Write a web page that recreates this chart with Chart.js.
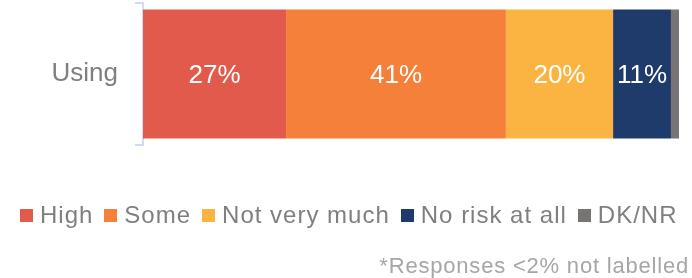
<!DOCTYPE html>
<html lang="en">
<head>
    <meta charset="UTF-8">
    <title>Risk perception - Using</title>
    <style>
        body {
            margin: 0;
            background: #fff;
            font-family: "Liberation Sans", Arial, sans-serif;
        }
        .wrap {
            position: relative;
            width: 692px;
            height: 278px;
        }
        .wrap canvas {
            position: absolute;
            left: 0;
            top: 0;
        }
        .legend {
            position: absolute;
            left: 20px;
            top: 200px;
            height: 30px;
            display: flex;
            align-items: center;
            font-size: 24px;
            letter-spacing: 1px;
            color: #7f7f7f;
            white-space: nowrap;
        }
        .legend .item {
            display: flex;
            align-items: center;
            margin-right: 11px;
        }
        .legend .box {
            width: 13px;
            height: 13px;
            margin-right: 7px;
        }
        .note {
            position: absolute;
            right: 3px;
            top: 252px;
            line-height: 28px;
            font-size: 22px;
            letter-spacing: 0.8px;
            color: #a6a6a6;
        }
    </style>
    <script src="https://cdn.jsdelivr.net/npm/chart.js@4.4.1/dist/chart.umd.min.js"></script>
</head>
<body>
    <div class="wrap">
        <canvas id="riskChart" width="692" height="278"></canvas>
        <div class="legend" id="legend"></div>
        <div class="note">*Responses &lt;2% not labelled</div>
    </div>

    <script>
        // data
        const categories = ['Using'];
        const seriesNames = ['High', 'Some', 'Not very much', 'No risk at all', 'DK/NR'];
        const high = [26.7];
        const some = [41];
        const notVeryMuch = [20];
        const noRisk = [10.8];
        const dkNr = [1.5];
        const seriesColors = ['#e15a4b', '#f58039', '#fbb442', '#1f3b6b', '#787473'];

        const seriesValues = [high, some, notVeryMuch, noRisk, dkNr];

        // percent labels inside the segments, skipped under 2%
        const segmentLabels = {
            id: 'segmentLabels',
            afterDatasetsDraw(chart) {
                const ctx = chart.ctx;
                ctx.save();
                ctx.font = '26px "Liberation Sans", Arial, sans-serif';
                ctx.fillStyle = '#ffffff';
                ctx.textAlign = 'center';
                ctx.textBaseline = 'middle';
                chart.data.datasets.forEach((ds, i) => {
                    const meta = chart.getDatasetMeta(i);
                    meta.data.forEach((bar, j) => {
                        const v = ds.data[j];
                        if (v < 2) return;
                        const cx = (bar.x + bar.base) / 2;
                        ctx.fillText(Math.round(v) + '%', cx, bar.y + 2);
                    });
                });
                ctx.restore();
            }
        };

        const ctx = document.getElementById('riskChart').getContext('2d');
        new Chart(ctx, {
            type: 'bar',
            data: {
                labels: categories,
                datasets: seriesNames.map((name, i) => ({
                    label: name,
                    data: seriesValues[i],
                    backgroundColor: seriesColors[i],
                    borderWidth: 0,
                    barPercentage: 1,
                    categoryPercentage: 0.91
                }))
            },
            options: {
                indexAxis: 'y',
                responsive: false,
                animation: false,
                layout: {
                    padding: { top: 3, right: 13, bottom: 133, left: 0 }
                },
                plugins: {
                    legend: { display: false },
                    tooltip: { enabled: false }
                },
                scales: {
                    x: {
                        display: false,
                        stacked: true,
                        min: 0,
                        max: 100
                    },
                    y: {
                        stacked: true,
                        afterFit(scale) {
                            // fixed axis width, and no extra room above/below for the label
                            scale.width = 143;
                            scale.paddingTop = 0;
                            scale.paddingBottom = 0;
                        },
                        border: {
                            display: true,
                            color: '#d0dcef',
                            width: 2
                        },
                        grid: {
                            offset: true,
                            drawOnChartArea: false,
                            drawTicks: true,
                            tickLength: 8,
                            color: '#d0dcef',
                            lineWidth: 2
                        },
                        ticks: {
                            padding: 17,
                            color: '#7f7f7f',
                            font: { family: '"Liberation Sans", Arial, sans-serif', size: 26 }
                        }
                    }
                }
            },
            plugins: [segmentLabels]
        });

        // legend under the chart
        const legendEl = document.getElementById('legend');
        seriesNames.forEach((name, i) => {
            legendEl.innerHTML += '<span class="item"><span class="box" style="background:' +
                seriesColors[i] + '"></span>' + name + '</span>';
        });
    </script>
</body>
</html>
